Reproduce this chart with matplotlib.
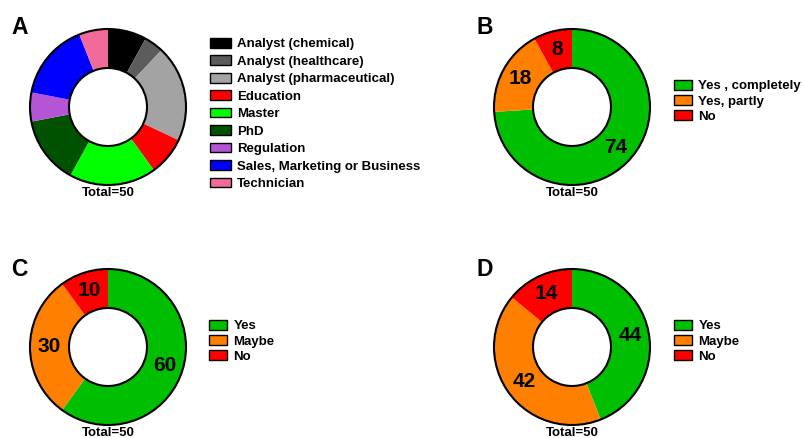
import matplotlib.pyplot as plt
from matplotlib.patches import Patch, Circle

# panel A: current job / position of respondents
a_labels = ["Analyst (chemical)", "Analyst (healthcare)", "Analyst (pharmaceutical)",
            "Education", "Master", "PhD", "Regulation",
            "Sales, Marketing or Business", "Technician"]
a_values = [8, 4, 20, 8, 18, 14, 6, 16, 6]
a_colors = ["#000000", "#5c5c5c", "#a3a3a3", "#ff0000", "#00ff00", "#005200",
            "#b455d8", "#0000ff", "#f26a9b"]

# panels B, C, D: yes / partly / no answers (percent)
b_labels = ["Yes , completely", "Yes, partly", "No"]
b_values = [74, 18, 8]
c_labels = ["Yes", "Maybe", "No"]
c_values = [60, 30, 10]
d_labels = ["Yes", "Maybe", "No"]
d_values = [44, 42, 14]
ynm_colors = ["#00bf00", "#ff8000", "#ff0000"]

total_text = "Total=50"

W, H = 804, 438
fig = plt.figure(figsize=(W / 100, H / 100), dpi=100)
bold = {"family": "Liberation Sans", "weight": "bold"}


def donut(cx, cy, values, colors, show_values, r=78, pad=6):
    half = r + pad
    ax = fig.add_axes([(cx - half) / W, 1 - (cy + half) / H, 2 * half / W, 2 * half / H])
    kw = dict(startangle=90, counterclock=False, radius=1,
              wedgeprops=dict(width=0.5, linewidth=0))
    if show_values:
        kw.update(autopct=lambda p: f"{p:.0f}", pctdistance=0.76,
                  textprops=dict(fontsize=15, color="black", **bold))
    ax.pie(values, colors=colors, **kw)
    for rad in (1.0, 0.5):
        ax.add_patch(Circle((0, 0), rad, fill=False, ec="black", lw=1.5))
    lim = half / r
    ax.set_xlim(-lim, lim)
    ax.set_ylim(-lim, lim)
    ax.set_aspect("equal")
    ax.axis("off")
    fig.text(cx / W, 1 - (cy + 86) / H, total_text, ha="center", va="center",
             fontsize=9.5, **bold)
    return ax


def legend(x, y, labels, colors, spacing, hlen):
    handles = [Patch(facecolor=c, edgecolor="black", linewidth=1.0) for c in colors]
    fig.legend(handles, labels, loc="upper left", bbox_to_anchor=(x / W, 1 - y / H),
               frameon=False, borderpad=0, borderaxespad=0, handlelength=hlen,
               handleheight=0.75, handletextpad=0.45, labelspacing=spacing,
               prop=dict(size=9.5, **bold))


donut(108, 107, a_values, a_colors, False)
donut(572, 107, b_values, ynm_colors, True)
donut(108, 347, c_values, ynm_colors, True)
donut(572, 347, d_values, ynm_colors, True)

legend(210, 38, a_labels, a_colors, 0.38, 1.6)
legend(674, 80, b_labels, ynm_colors, 0.2, 1.4)
legend(209, 320, c_labels, ynm_colors, 0.2, 1.4)
legend(674, 320, d_labels, ynm_colors, 0.2, 1.4)

for letter, x, y in [("A", 11, 28), ("B", 477, 28), ("C", 11, 270), ("D", 477, 270)]:
    fig.text(x / W, 1 - y / H, letter, ha="left", va="center", fontsize=16.5, **bold)

fig.savefig("out.png", dpi=100)
